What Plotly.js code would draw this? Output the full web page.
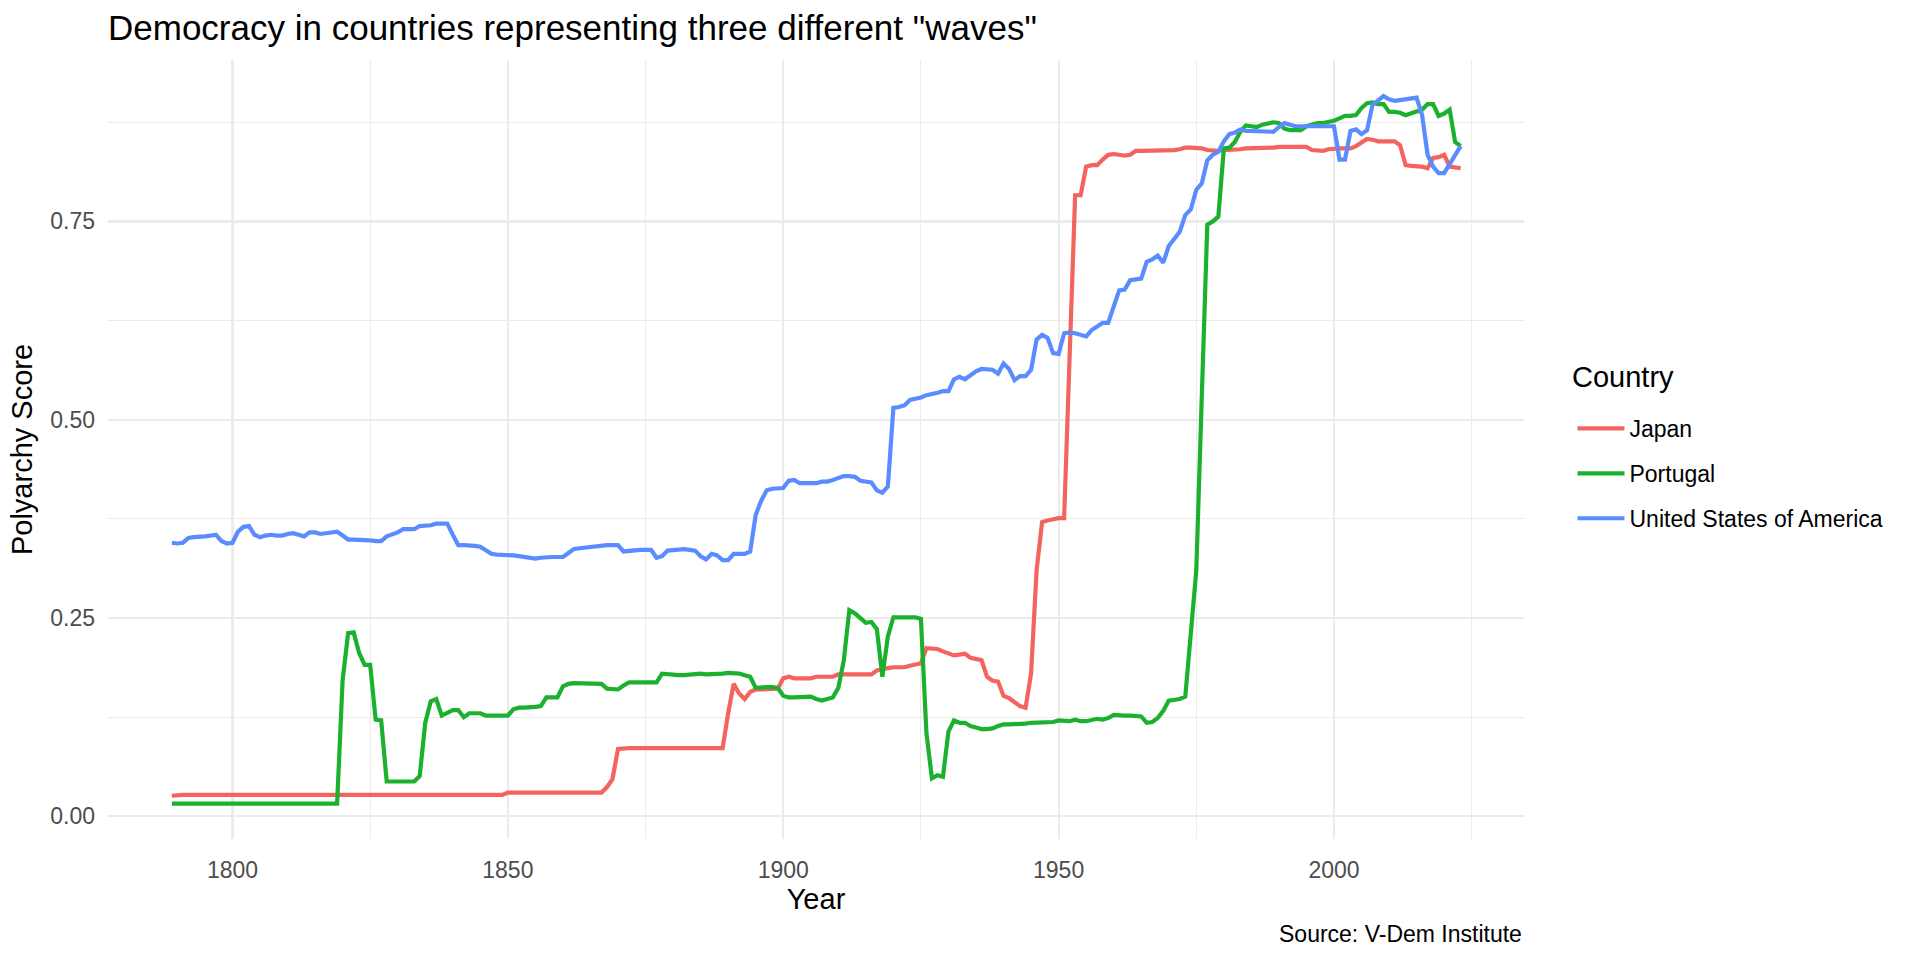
<!DOCTYPE html>
<html><head><meta charset="utf-8">
<script src="https://cdn.plot.ly/plotly-3.0.1.min.js"></script>
<style>html,body{margin:0;padding:0;background:#fff}#chart{width:1920px;height:960px}</style>
</head><body><div id="chart"></div>
<script>
// ---- data (V-Dem polyarchy score) ----
const firstYear = 1789;
const lastYear = 2023;
const years = [];
for (let y = firstYear; y <= lastYear; y++) years.push(y);

const countries = ["Japan", "Portugal", "United States of America"];
const countryColors = ["#F4645F", "#1BB12F", "#5A8CFF"];
const legendTitle = "Country";

const japan = [
  0.026,
  0.027,0.027,0.027,0.027,0.027,0.027,0.027,0.027,0.027,0.027,
  0.027,0.027,0.027,0.027,0.027,0.027,0.027,0.027,0.027,0.027,
  0.027,0.027,0.027,0.027,0.027,0.027,0.027,0.027,0.027,0.027,
  0.027,0.027,0.027,0.027,0.027,0.027,0.027,0.027,0.027,0.027,
  0.027,0.027,0.027,0.027,0.027,0.027,0.027,0.027,0.027,0.027,
  0.027,0.027,0.027,0.027,0.027,0.027,0.027,0.027,0.027,0.027,
  0.030,0.030,0.030,0.030,0.030,0.030,0.030,0.030,0.030,0.030,
  0.030,0.030,0.030,0.030,0.030,0.030,0.030,0.030,0.037,0.047,
  0.085,0.086,0.086,0.086,0.086,0.086,0.086,0.086,0.086,0.086,
  0.086,0.086,0.086,0.086,0.086,0.086,0.086,0.086,0.086,0.086,
  0.130,0.167,0.155,0.148,0.157,0.160,0.160,0.160,0.160,0.161,
  0.174,0.176,0.174,0.174,0.173,0.174,0.176,0.176,0.176,0.176,
  0.179,0.179,0.179,0.179,0.179,0.179,0.179,0.184,0.186,0.187,
  0.188,0.188,0.188,0.190,0.192,0.193,0.212,0.212,0.211,0.208,
  0.205,0.203,0.204,0.205,0.200,0.198,0.197,0.176,0.171,0.170,
  0.152,0.149,0.144,0.139,0.137,0.180,0.310,0.371,0.373,0.375,
  0.376,0.376,0.580,0.783,0.783,0.819,0.821,0.821,0.828,0.834,
  0.835,0.834,0.833,0.834,0.839,0.839,0.839,0.839,0.839,0.839,
  0.840,0.840,0.841,0.843,0.843,0.843,0.842,0.840,0.839,0.839,
  0.840,0.840,0.840,0.841,0.842,0.842,0.842,0.842,0.842,0.843,
  0.844,0.844,0.844,0.844,0.844,0.844,0.840,0.839,0.839,0.841,
  0.842,0.842,0.842,0.842,0.845,0.850,0.854,0.853,0.851,0.851,
  0.851,0.851,0.846,0.821,0.820,0.820,0.819,0.817,0.830,0.831,
  0.834,0.819,0.818,0.817
];

const portugal = [
  0.016,
  0.016,0.016,0.016,0.016,0.016,0.016,0.016,0.016,0.016,0.016,
  0.016,0.016,0.016,0.016,0.016,0.016,0.016,0.016,0.016,0.016,
  0.016,0.016,0.016,0.016,0.016,0.016,0.016,0.016,0.016,0.016,
  0.172,0.231,0.232,0.206,0.191,0.191,0.122,0.121,0.044,0.044,
  0.044,0.044,0.044,0.044,0.051,0.118,0.145,0.148,0.127,0.131,
  0.134,0.134,0.125,0.130,0.130,0.130,0.127,0.127,0.127,0.127,
  0.127,0.135,0.137,0.137,0.137,0.138,0.139,0.150,0.150,0.150,
  0.164,0.167,0.168,0.168,0.168,0.167,0.167,0.167,0.161,0.161,
  0.160,0.165,0.169,0.169,0.169,0.169,0.169,0.169,0.180,0.179,
  0.179,0.178,0.178,0.179,0.180,0.180,0.179,0.179,0.179,0.180,
  0.181,0.181,0.180,0.178,0.176,0.162,0.163,0.163,0.163,0.162,
  0.152,0.150,0.150,0.150,0.150,0.151,0.148,0.146,0.148,0.150,
  0.162,0.197,0.260,0.256,0.250,0.244,0.245,0.236,0.176,0.227,
  0.251,0.251,0.251,0.251,0.251,0.249,0.105,0.048,0.052,0.050,
  0.107,0.121,0.118,0.118,0.114,0.112,0.110,0.110,0.111,0.114,
  0.116,0.116,0.116,0.117,0.117,0.118,0.118,0.118,0.118,0.119,
  0.121,0.120,0.120,0.122,0.120,0.120,0.121,0.123,0.122,0.124,
  0.128,0.127,0.127,0.127,0.127,0.126,0.118,0.119,0.124,0.133,
  0.146,0.147,0.148,0.151,0.230,0.310,0.530,0.746,0.750,0.756,
  0.842,0.843,0.850,0.863,0.871,0.870,0.869,0.872,0.874,0.875,
  0.874,0.867,0.865,0.865,0.865,0.870,0.872,0.874,0.874,0.875,
  0.877,0.880,0.883,0.883,0.884,0.893,0.899,0.900,0.898,0.898,
  0.888,0.888,0.887,0.884,0.886,0.889,0.891,0.898,0.898,0.883,
  0.886,0.891,0.850,0.845
];

const usa = [
  0.345,
  0.344,0.345,0.351,0.352,0.352,0.353,0.354,0.355,0.347,0.344,
  0.345,0.359,0.365,0.366,0.355,0.352,0.354,0.355,0.354,0.354,
  0.356,0.357,0.355,0.353,0.358,0.358,0.356,0.357,0.358,0.359,
  0.354,0.349,0.349,0.349,0.348,0.348,0.347,0.347,0.353,0.355,
  0.358,0.362,0.362,0.362,0.366,0.366,0.367,0.369,0.369,0.369,
  0.355,0.342,0.342,0.342,0.341,0.340,0.335,0.331,0.330,0.330,
  0.329,0.329,0.328,0.327,0.326,0.325,0.326,0.327,0.327,0.327,
  0.327,0.332,0.337,0.338,0.339,0.340,0.341,0.342,0.342,0.342,
  0.342,0.334,0.335,0.335,0.336,0.336,0.336,0.326,0.328,0.335,
  0.336,0.337,0.337,0.336,0.335,0.328,0.324,0.331,0.329,0.323,
  0.323,0.331,0.331,0.331,0.334,0.380,0.398,0.411,0.413,0.414,
  0.414,0.423,0.424,0.420,0.420,0.420,0.420,0.422,0.422,0.424,
  0.426,0.429,0.429,0.428,0.423,0.422,0.421,0.411,0.408,0.416,
  0.515,0.516,0.518,0.525,0.526,0.528,0.531,0.532,0.534,0.536,
  0.536,0.551,0.554,0.551,0.556,0.561,0.564,0.564,0.563,0.558,
  0.571,0.564,0.550,0.555,0.555,0.563,0.601,0.607,0.603,0.584,
  0.583,0.609,0.610,0.609,0.607,0.605,0.613,0.617,0.622,0.622,
  0.642,0.663,0.664,0.676,0.677,0.678,0.699,0.702,0.707,0.698,
  0.719,0.728,0.737,0.758,0.765,0.790,0.798,0.827,0.834,0.838,
  0.851,0.860,0.862,0.866,0.864,0.864,0.864,0.864,0.863,0.863,
  0.869,0.874,0.872,0.870,0.870,0.870,0.870,0.870,0.870,0.870,
  0.870,0.828,0.828,0.864,0.866,0.860,0.865,0.897,0.903,0.908,
  0.904,0.902,0.903,0.904,0.905,0.906,0.884,0.834,0.819,0.811,
  0.811,0.823,0.834,0.845
];

const seriesValues = [japan, portugal, usa];

// ---- chart ----
const FONT = "Liberation Sans, Arial, Helvetica, sans-serif";
const GRID = "#EBEBEB";

const traces = countries.map((name, i) => ({
  type: "scatter",
  mode: "lines",
  name: name,
  legendgroup: name,
  x: years,
  y: seriesValues[i],
  line: { color: countryColors[i], width: 4.2 },
  hoverinfo: "skip"
}));

const panelTop = 60, panelBottom = 839, panelLeft = 108, panelRight = 1524.5;
const panelH = panelBottom - panelTop;
const panelW = panelRight - panelLeft;

const layout = {
  width: 1920, height: 960,
  margin: { l: panelLeft, r: 1920 - panelRight, t: panelTop, b: 960 - panelBottom, pad: 0 },
  paper_bgcolor: "#ffffff",
  plot_bgcolor: "#ffffff",
  font: { family: FONT, color: "#000000" },
  showlegend: true,
  title: {
    text: 'Democracy in countries representing three different "waves"',
    font: { family: FONT, size: 35, color: "#000000" },
    x: 0, xref: "paper", xanchor: "left",
    y: 1 - 28 / 960, yref: "container", yanchor: "middle"
  },
  xaxis: {
    range: [1777.4, 2034.5],
    tick0: 1800, dtick: 50,
    showgrid: true, gridcolor: GRID, gridwidth: 2.2,
    minor: { tick0: 1800, dtick: 25, showgrid: true, gridcolor: GRID, gridwidth: 1.1, ticks: "" },
    zeroline: false, showline: false, ticks: "",
    tickfont: { family: FONT, size: 23, color: "#4D4D4D" },
    ticklabelstandoff: 15,
    title: { text: "Year", font: { family: FONT, size: 29, color: "#000000" }, standoff: 4 },
    automargin: false, fixedrange: true
  },
  yaxis: {
    range: [-0.0285, 0.9535],
    tick0: 0, dtick: 0.25, tickformat: ".2f",
    showgrid: true, gridcolor: GRID, gridwidth: 2.2,
    minor: { tick0: 0, dtick: 0.125, showgrid: true, gridcolor: GRID, gridwidth: 1.1, ticks: "" },
    zeroline: false, showline: false, ticks: "",
    tickfont: { family: FONT, size: 23, color: "#4D4D4D" },
    ticklabelstandoff: 12,
    title: { text: "Polyarchy Score", font: { family: FONT, size: 29, color: "#000000" }, standoff: 9 },
    automargin: false, fixedrange: true
  },
  legend: {
    font: { family: FONT, size: 23, color: "#000000" },
    x: (1573 - panelLeft) / panelW, xanchor: "left",
    y: (panelBottom - 407) / panelH, yanchor: "top",
    tracegroupgap: 12,
    itemwidth: 47,
    bgcolor: "rgba(0,0,0,0)", borderwidth: 0
  },
  annotations: [
    {
      text: legendTitle,
      xref: "paper", yref: "paper",
      x: (1571 - panelLeft) / panelW, xanchor: "left",
      y: (panelBottom - 377) / panelH, yanchor: "middle",
      showarrow: false,
      font: { family: FONT, size: 29, color: "#000000" }
    },
    {
      text: "Source: V-Dem Institute",
      xref: "paper", yref: "paper",
      x: 1, xanchor: "right",
      y: -(934 - panelBottom) / panelH, yanchor: "middle",
      showarrow: false,
      font: { family: FONT, size: 23, color: "#000000" }
    }
  ]
};

Plotly.newPlot("chart", traces, layout, { displayModeBar: false, staticPlot: true });
</script>
</body></html>
